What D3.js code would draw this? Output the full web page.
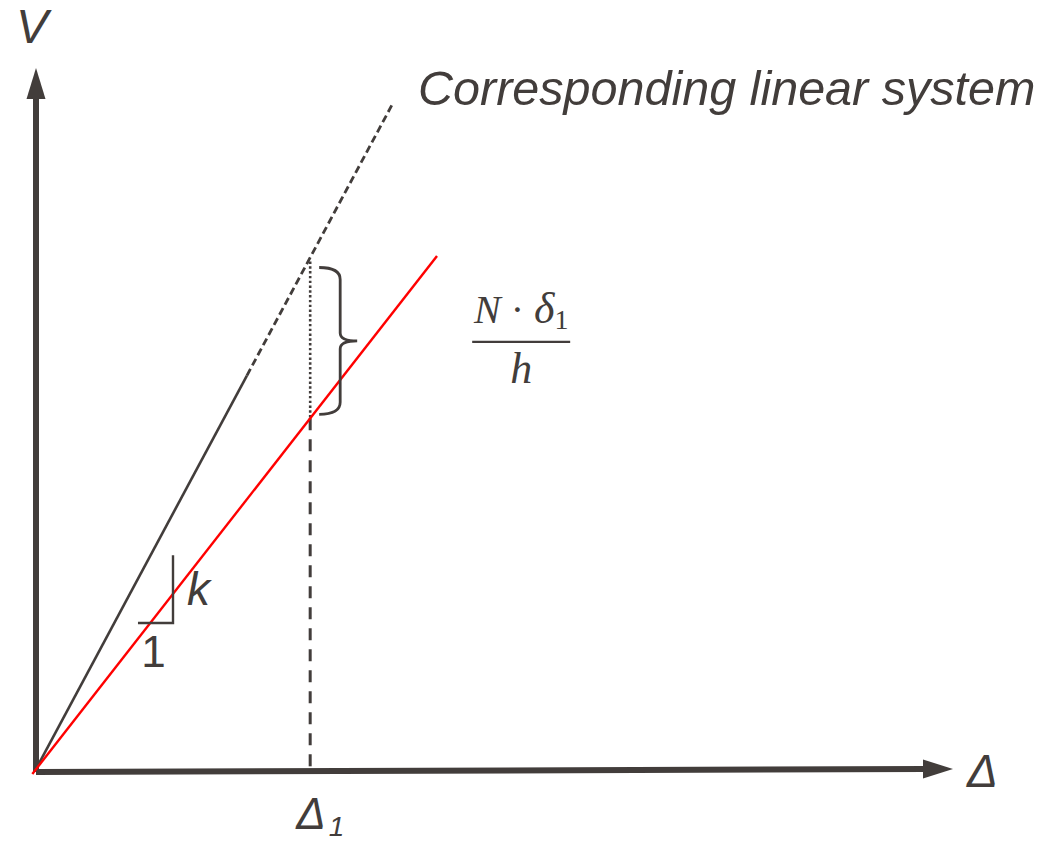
<!DOCTYPE html>
<html>
<head>
<meta charset="utf-8">
<script src="https://cdn.jsdelivr.net/npm/d3@7"></script>
<style>
  html, body { margin: 0; padding: 0; background: #fff; }
  svg { display: block; }
</style>
</head>
<body>
<svg id="chart" width="1056" height="841"></svg>
<script>
// ---- data (abstract units) ----
const xDomain = [0, 100];            // Δ
const yDomain = [0, 100];            // V
const linearSystem = [[0, 0], [38.93, 95.0]];   // corresponding linear system (black)
const linearSolidEnd = 23.0;                     // solid up to this Δ, dashed beyond
const actualSystem = [[-0.4, -0.7], [43.73, 73.18]]; // red line
const delta1 = 29.9;                              // Δ1
const slopeTriangle = { x0: 11.12, x1: 14.94, y0: 20.83, y1: 30.5 };
const labels = {
  yAxis: "V", xAxis: "Δ", delta1: "Δ", delta1Sub: "1",
  linear: "Corresponding linear system", k: "k", one: "1"
};

const ink = "#423d3b";
const svg = d3.select("#chart");

const x = d3.scaleLinear().domain(xDomain).range([36, 953]);
const y = d3.scaleLinear().domain(yDomain).range([769, 68]);

const slopeOf = (pts) => (pts[1][1] - pts[0][1]) / (pts[1][0] - pts[0][0]);
const linAt = (d) => linearSystem[0][1] + slopeOf(linearSystem) * (d - linearSystem[0][0]);
const redAt = (d) => actualSystem[0][1] + slopeOf(actualSystem) * (d - actualSystem[0][0]);

const line = d3.line().x(d => x(d[0])).y(d => y(d[1]));

// ---- axes with arrows ----
const x0 = x(0), y0 = y(0);
svg.append("line").attr("x1", x0).attr("y1", y0 + 3).attr("x2", x(xDomain[1]) - 28).attr("y2", y0)
  .attr("stroke", ink).attr("stroke-width", 6);
svg.append("line").attr("x1", x0).attr("y1", y0 + 3).attr("x2", x0).attr("y2", y(yDomain[1]) + 30)
  .attr("stroke", ink).attr("stroke-width", 6);
const xt = x(xDomain[1]), yt = y(yDomain[1]);
svg.append("path").attr("d", `M${xt},${y0} L${xt - 30},${y0 - 9.5} L${xt - 30},${y0 + 9.5} Z`).attr("fill", ink);
svg.append("path").attr("d", `M${x0},${yt} L${x0 - 9.5},${yt + 31} L${x0 + 9.5},${yt + 31} Z`).attr("fill", ink);

// ---- linear system line (solid + dashed) ----
svg.append("path").datum([linearSystem[0], [linearSolidEnd, linAt(linearSolidEnd)]])
  .attr("d", line).attr("fill", "none").attr("stroke", ink).attr("stroke-width", 2.6);
svg.append("path").datum([[linearSolidEnd, linAt(linearSolidEnd)], linearSystem[1]])
  .attr("d", line).attr("fill", "none").attr("stroke", ink).attr("stroke-width", 2.8)
  .attr("stroke-dasharray", "7.5,4");

// ---- Δ1 verticals ----
svg.append("line").attr("x1", x(delta1)).attr("x2", x(delta1))
  .attr("y1", y(redAt(delta1))).attr("y2", y0)
  .attr("stroke", ink).attr("stroke-width", 3).attr("stroke-dasharray", "12,9");
svg.append("line").attr("x1", x(delta1)).attr("x2", x(delta1))
  .attr("y1", y(linAt(delta1)) + 4).attr("y2", y(redAt(delta1)))
  .attr("stroke", ink).attr("stroke-width", 2.6).attr("stroke-dasharray", "2.4,2.4");

// ---- red line ----
svg.append("path").datum(actualSystem)
  .attr("d", line).attr("fill", "none").attr("stroke", "#ff0000").attr("stroke-width", 2.4);

// ---- slope triangle ----
const st = slopeTriangle;
svg.append("path")
  .attr("d", `M${x(st.x0)},${y(st.y0)} L${x(st.x1)},${y(st.y0)} L${x(st.x1)},${y(st.y1)}`)
  .attr("fill", "none").attr("stroke", ink).attr("stroke-width", 2.4);
svg.append("text").attr("x", x(st.x1) + 14).attr("y", y(st.y0) - 18)
  .attr("font-family", "Liberation Sans, Arial, sans-serif").attr("font-style", "italic")
  .attr("font-size", 46).attr("fill", ink).text(labels.k);
svg.append("text").attr("x", (x(st.x0) + x(st.x1)) / 2 - 2).attr("y", y(st.y0) + 44)
  .attr("text-anchor", "middle")
  .attr("font-family", "Liberation Sans, Arial, sans-serif")
  .attr("font-size", 44).attr("fill", ink).text(labels.one);

// ---- brace ----
const bx = x(delta1);
const bt = y(linAt(delta1)) + 10, bb = y(redAt(delta1)) - 4, bm = (bt + bb) / 2;
svg.append("path")
  .attr("d", `M${bx + 9},${bt} Q${bx + 30},${bt} ${bx + 30},${bt + 12}
              L${bx + 30},${bm - 8} Q${bx + 30},${bm} ${bx + 47},${bm}
              Q${bx + 30},${bm} ${bx + 30},${bm + 8}
              L${bx + 30},${bb - 12} Q${bx + 30},${bb} ${bx + 9},${bb}`)
  .attr("fill", "none").attr("stroke", ink).attr("stroke-width", 2.8);

// ---- fraction N·δ1 / h ----
const fc = bx + 211, fy = bm + 1;
const serif = "Liberation Serif, 'DejaVu Serif', serif";
const num = svg.append("text").attr("x", fc).attr("y", fy - 19).attr("text-anchor", "middle")
  .attr("font-family", serif).attr("font-size", 40).attr("fill", ink);
num.append("tspan").attr("font-style", "italic").text("N");
num.append("tspan").text(" · ");
num.append("tspan").attr("font-style", "italic").attr("font-size", 44).text("δ");
num.append("tspan").attr("font-size", 28).attr("dy", 6).text("1");
svg.append("line").attr("x1", fc - 49).attr("x2", fc + 49).attr("y1", fy).attr("y2", fy)
  .attr("stroke", ink).attr("stroke-width", 2.4);
svg.append("text").attr("x", fc).attr("y", fy + 41).attr("text-anchor", "middle")
  .attr("font-family", serif).attr("font-style", "italic").attr("font-size", 44).attr("fill", ink)
  .text("h");

// ---- axis labels ----
const sans = "Liberation Sans, Arial, sans-serif";
svg.append("text").attr("x", x0 - 4).attr("y", 43).attr("text-anchor", "middle")
  .attr("font-family", sans).attr("font-style", "italic").attr("font-size", 48).attr("fill", ink)
  .text(labels.yAxis);
svg.append("text").attr("x", xt + 14).attr("y", y0 + 18)
  .attr("font-family", sans).attr("font-style", "italic").attr("font-size", 46).attr("fill", ink)
  .text(labels.xAxis);
const d1 = svg.append("text").attr("x", x(delta1) - 14).attr("y", y0 + 60)
  .attr("font-family", sans).attr("font-style", "italic").attr("font-size", 44).attr("fill", ink);
d1.append("tspan").text(labels.delta1);
d1.append("tspan").attr("font-size", 28).attr("dy", 7).attr("dx", 3).text(labels.delta1Sub);

// ---- linear system label ----
svg.append("text").attr("x", 418).attr("y", 105)
  .attr("font-family", sans).attr("font-style", "italic").attr("font-size", 48.5).attr("fill", ink)
  .text(labels.linear);
</script>
</body>
</html>
